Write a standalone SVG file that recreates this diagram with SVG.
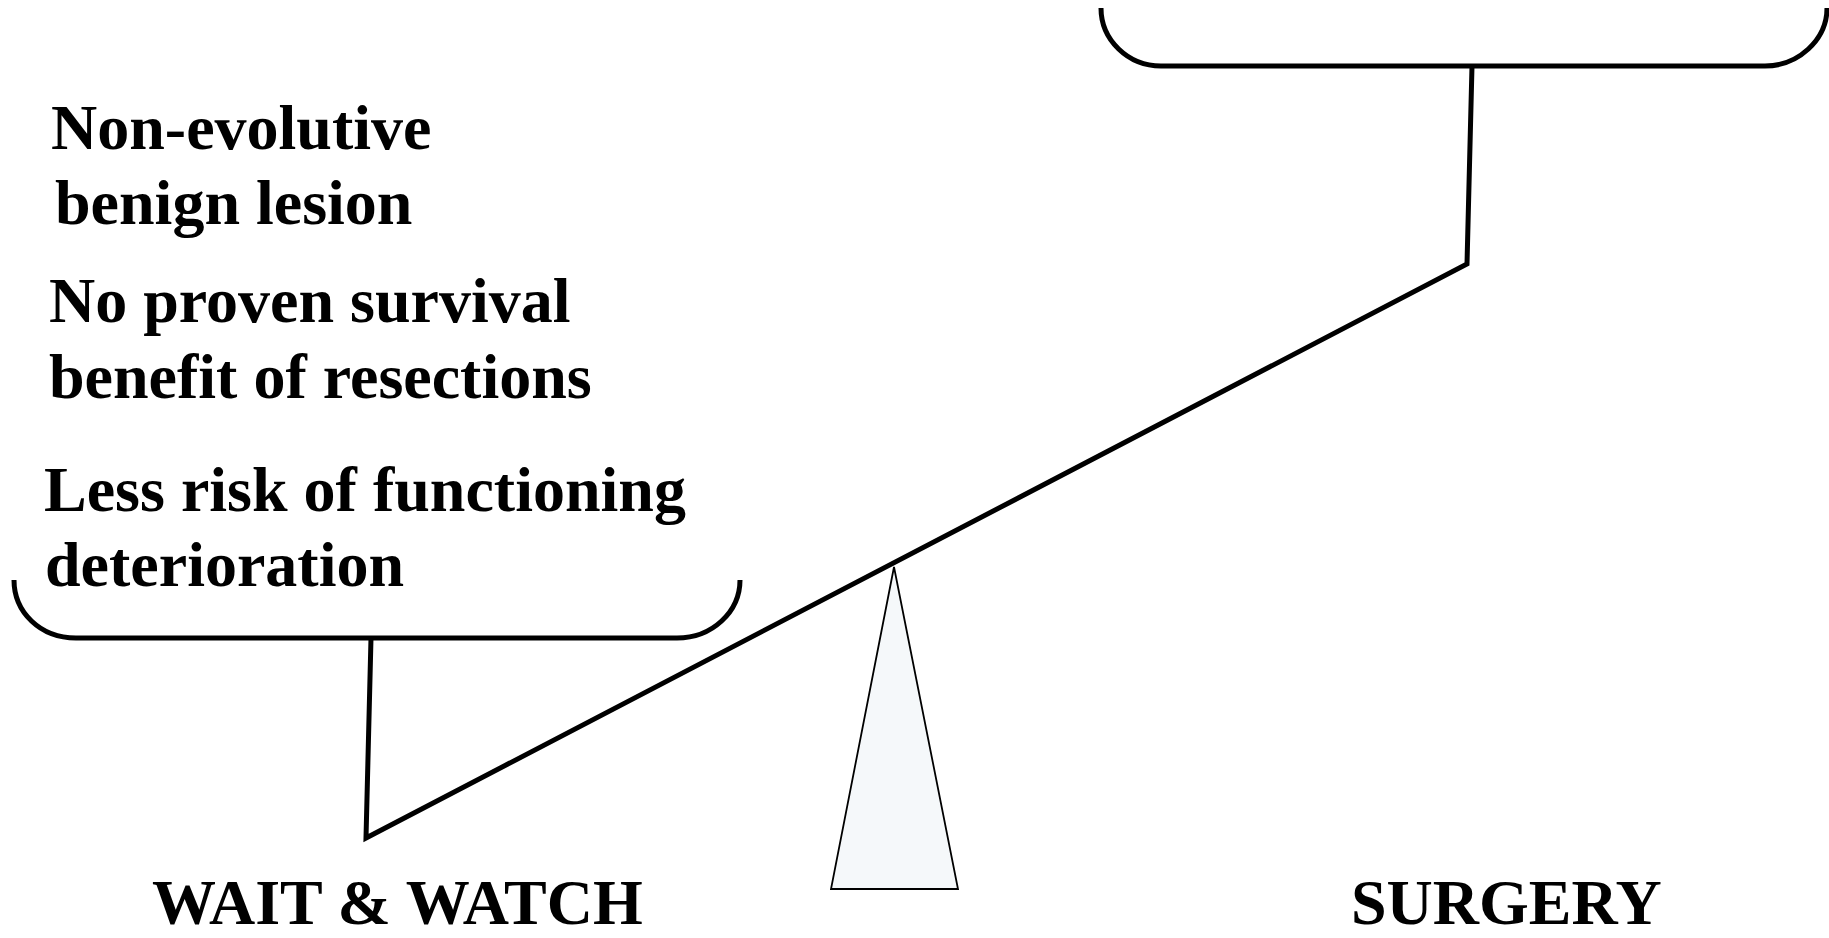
<svg xmlns="http://www.w3.org/2000/svg" width="1829" height="938" viewBox="0 0 1829 938">
<style>
.t{font-family:"Liberation Serif","Times New Roman",serif;font-weight:bold;font-size:64px;fill:#000}
.ln{fill:none;stroke:#000;stroke-width:5;stroke-linejoin:miter}
</style>
<rect width="1829" height="938" fill="#fff"/>
<g id="surgery-bracket">
<path class="ln" d="M1101,8 C1101,40 1128,66 1161,66 L1765,66 C1798,66 1827,40 1827,8"/>
</g>
<g id="wait-bracket">
<path class="ln" d="M14,580 C14,612 40,638 76,638 L677,638 C712,638 740,612 740,580"/>
</g>
<g id="connectors">
<polyline class="ln" points="1472,66 1467,264 366,838 371,638"/>
</g>
<g id="fulcrum">
<polygon points="894,567 831,889 958,889" fill="#f5f8fa" stroke="#000" stroke-width="1.8"/>
</g>
<g id="wait-text">
<text class="t" x="51" y="149">Non-evolutive</text>
<text class="t" x="55" y="224">benign lesion</text>
<text class="t" x="49" y="322">No proven survival</text>
<text class="t" x="49" y="398">benefit of resections</text>
<text class="t" x="44" y="511">Less risk of functioning</text>
<text class="t" x="45" y="586">deterioration</text>
</g>
<g id="wait-label">
<text class="t" x="152" y="924">WAIT &amp; WATCH</text>
</g>
<g id="surgery-label">
<text class="t" x="1351" y="924">SURGERY</text>
</g>
</svg>
